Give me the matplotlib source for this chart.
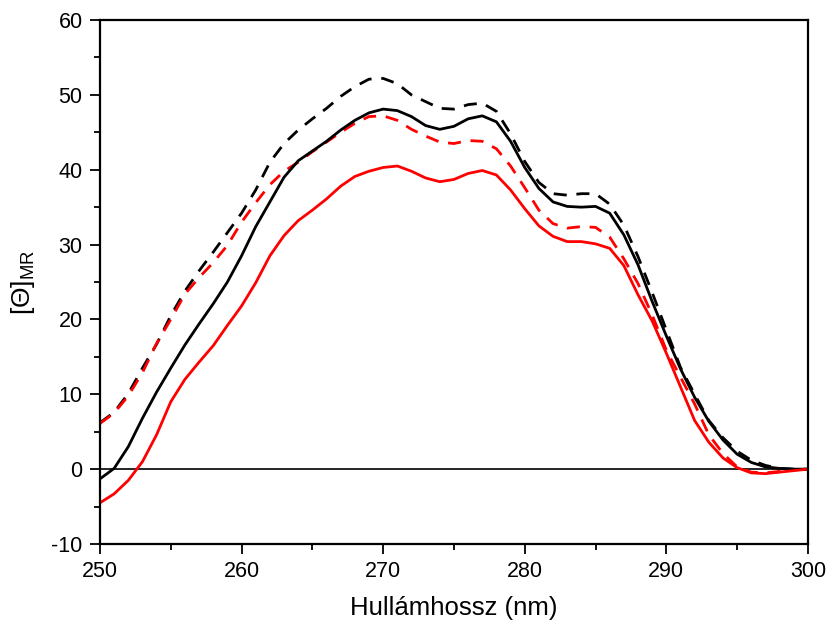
import numpy as np
import matplotlib
matplotlib.use('Agg')
import matplotlib.pyplot as plt
from matplotlib.ticker import MultipleLocator

wl = np.arange(250, 301)

black_solid = [-1.3, 0.1, 3.0, 6.8, 10.3, 13.5, 16.6, 19.4, 22.1, 25.0,
               28.5, 32.4, 35.7, 39.0, 41.2, 42.5, 43.8, 45.3, 46.6, 47.6,
               48.1, 47.9, 47.1, 45.9, 45.4, 45.8, 46.8, 47.2, 46.4, 43.8,
               40.3, 37.5, 35.7, 35.1, 35.0, 35.1, 34.2, 31.3, 27.3, 22.4,
               17.8, 13.4, 9.6, 6.4, 3.9, 2.0, 0.9, 0.3, 0.1, 0.0, 0.0]
black_dash = [6.2, 7.6, 10.1, 13.5, 16.7, 20.5, 23.8, 26.5, 29.0, 31.6,
              34.2, 37.3, 41.0, 43.5, 45.3, 46.8, 48.2, 49.8, 51.1, 52.1,
              52.2, 51.5, 50.0, 49.1, 48.2, 48.1, 48.7, 48.9, 47.8, 44.8,
              41.1, 38.3, 36.8, 36.6, 36.8, 36.8, 35.4, 32.6, 28.4, 23.6,
              18.6, 13.6, 10.0, 6.5, 4.2, 2.4, 1.2, 0.5, 0.1, 0.0, 0.0]
red_solid = [-4.5, -3.3, -1.5, 1.0, 4.6, 9.0, 12.0, 14.3, 16.5, 19.2,
             21.8, 24.9, 28.5, 31.2, 33.2, 34.6, 36.1, 37.8, 39.1, 39.8,
             40.3, 40.5, 39.8, 38.9, 38.4, 38.7, 39.5, 39.9, 39.3, 37.3,
             34.8, 32.5, 31.1, 30.4, 30.4, 30.1, 29.5, 27.2, 23.3, 19.8,
             15.5, 11.0, 6.5, 3.6, 1.5, 0.2, -0.5, -0.6, -0.4, -0.2, 0.0]
red_dash = [6.1, 7.5, 9.8, 12.9, 16.8, 20.0, 23.4, 25.6, 27.6, 29.9,
            33.0, 35.6, 38.0, 39.8, 41.0, 42.4, 43.7, 45.0, 46.2, 47.1,
            47.2, 46.6, 45.4, 44.5, 43.7, 43.5, 43.9, 43.8, 42.8, 40.5,
            37.6, 34.6, 32.8, 32.2, 32.4, 32.3, 31.0, 28.1, 24.8, 20.6,
            15.9, 12.3, 8.7, 4.6, 2.1, 0.3, -0.4, -0.5, -0.3, -0.1, 0.0]

plt.rcParams['font.family'] = ['Liberation Sans', 'DejaVu Sans']
plt.rcParams['mathtext.default'] = 'regular'
plt.rcParams['axes.unicode_minus'] = False

fig = plt.figure(figsize=(8.27, 6.26), dpi=100)
ax = fig.add_axes([0.1209, 0.131, 0.856, 0.837])

ax.axhline(0, color='black', lw=1.2, zorder=1)
ax.plot(wl, black_dash, color='black', lw=2.0, dashes=(4.7, 3.5), solid_joinstyle='round')
ax.plot(wl, red_dash, color='red', lw=2.0, dashes=(4.7, 3.5), solid_joinstyle='round')
ax.plot(wl, black_solid, color='black', lw=2.0, solid_joinstyle='round')
ax.plot(wl, red_solid, color='red', lw=2.0, solid_joinstyle='round')

ax.set_xlim(250, 300)
ax.set_ylim(-10, 60)
ax.xaxis.set_major_locator(MultipleLocator(10))
ax.xaxis.set_minor_locator(MultipleLocator(5))
ax.yaxis.set_major_locator(MultipleLocator(10))
ax.yaxis.set_minor_locator(MultipleLocator(5))
ax.tick_params(which='both', direction='out', width=1.3, labelsize=15.5,
               top=False, right=False)
ax.tick_params(which='major', length=7.5, pad=5)
ax.tick_params(which='minor', length=4.5)
for s in ax.spines.values():
    s.set_linewidth(1.6)

ax.set_xlabel('Hullámhossz (nm)', fontsize=18.5, labelpad=10)
ax.set_ylabel('[Θ]$_{MR}$', fontsize=19, labelpad=10)

fig.savefig('out.png', dpi=100)
